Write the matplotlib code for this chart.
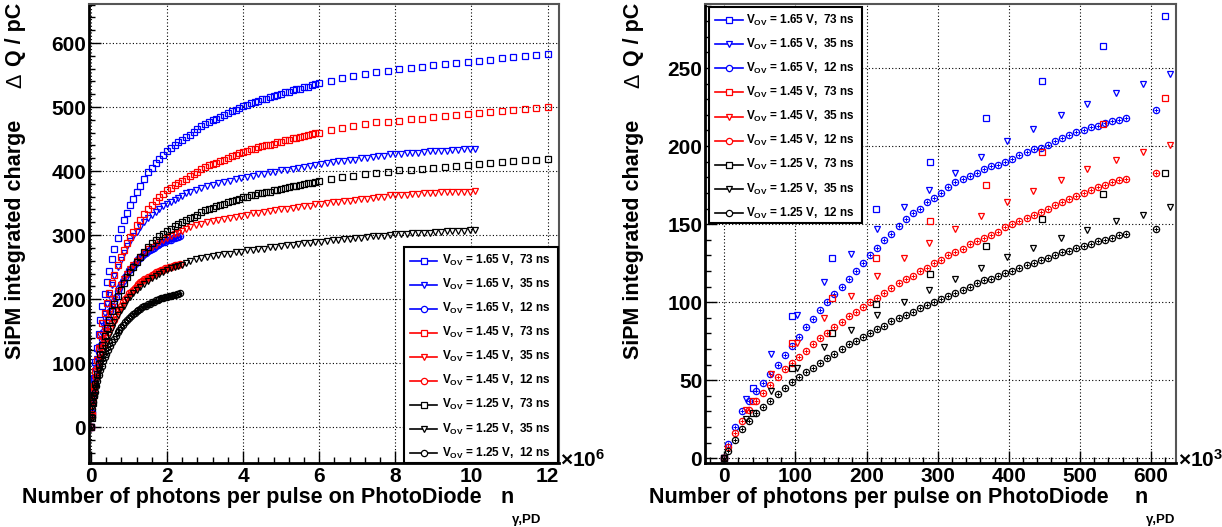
import matplotlib
matplotlib.use("Agg")
import matplotlib.pyplot as plt
from matplotlib.lines import Line2D
from matplotlib.patches import Rectangle
from matplotlib.ticker import MultipleLocator

# ---------------- data, left panel (x in units of 1e6 photons) ----------------
x73_l = [0, 0.02, 0.05, 0.08, 0.12, 0.16, 0.2, 0.25, 0.3, 0.36, 0.42, 0.48, 0.55, 0.62, 0.7, 0.78, 0.86, 0.94, 1.02,
         1.1, 1.2, 1.3, 1.4, 1.5, 1.6, 1.7, 1.8, 1.9, 2.0, 2.1, 2.2, 2.3, 2.4, 2.5, 2.6, 2.7, 2.8, 2.9, 3.0,
         3.1, 3.2, 3.3, 3.4, 3.5, 3.6, 3.7, 3.8, 3.9, 4.0, 4.1, 4.2, 4.3, 4.4, 4.5, 4.6, 4.7, 4.8, 4.9, 5.0,
         5.1, 5.2, 5.3, 5.4, 5.5, 5.6, 5.7, 5.8, 5.9, 6.0,
         6.3, 6.6, 6.9, 7.2, 7.5, 7.8, 8.1, 8.4, 8.7, 9.0, 9.3, 9.6, 9.9, 10.2, 10.5, 10.8, 11.1, 11.4, 11.7, 12.0]
q165_73_l = [0, 22, 55, 76, 101, 123, 145, 168, 190, 208, 226, 244, 262, 278, 296, 310, 323, 335, 347,
             356, 367, 377, 388, 398, 405, 412, 419, 425, 432, 436, 441, 445, 449, 453, 457, 461, 465, 470, 474,
             477, 480, 482, 485, 488, 491, 494, 496, 499, 502, 504, 506, 508, 510, 512, 513, 515, 517, 519, 521,
             523, 524, 526, 528, 529, 531, 532, 534, 536, 537,
             541, 545, 548, 552, 555, 557, 559, 561, 563, 565, 567, 569, 571, 572, 574, 576, 578, 580, 581, 583]
q145_73_l = [0, 19, 47, 65, 87, 105, 124, 144, 163, 178, 194, 209, 225, 238, 254, 266, 277, 287, 297,
             305, 315, 323, 333, 341, 347, 353, 359, 364, 370, 374, 378, 381, 385, 388, 392, 395, 399, 403, 406,
             409, 411, 413, 416, 418, 421, 423, 425, 428, 430, 432, 434, 435, 437, 439, 440, 441, 443, 445, 446,
             448, 449, 451, 452, 453, 455, 456, 458, 459, 460,
             464, 467, 470, 473, 476, 477, 479, 481, 482, 484, 486, 488, 489, 490, 492, 494, 495, 497, 498, 500]
q125_73_l = [0, 15, 37, 51, 68, 83, 98, 114, 129, 142, 155, 168, 181, 192, 205, 215, 225, 234, 243,
             250, 258, 266, 274, 282, 287, 293, 298, 302, 307, 310, 314, 317, 320, 323, 326, 329, 332, 336, 339,
             341, 343, 345, 347, 349, 351, 353, 355, 357, 359, 360, 362, 363, 365, 366, 367, 368, 370, 371, 372,
             374, 375, 376, 377, 378, 380, 381, 382, 383, 384,
             387, 390, 392, 395, 397, 399, 401, 402, 404, 405, 407, 408, 410, 411, 413, 414, 416, 417, 418, 419]

x35_l = [0, 0.02, 0.05, 0.08, 0.12, 0.16, 0.2, 0.25, 0.3, 0.36, 0.42, 0.48, 0.55, 0.62, 0.7, 0.78, 0.86, 0.94, 1.02,
         1.1, 1.2, 1.3, 1.4, 1.5, 1.6, 1.7, 1.8, 1.9, 2.0, 2.1, 2.2, 2.3, 2.4, 2.5, 2.6,
         2.75, 2.9, 3.05, 3.2, 3.35, 3.5, 3.65, 3.8, 3.95, 4.1, 4.25, 4.4, 4.55, 4.7, 4.85, 5.0, 5.15, 5.3, 5.45,
         5.6, 5.75, 5.9, 6.05, 6.2, 6.35, 6.5, 6.65, 6.8, 6.95, 7.1, 7.25, 7.4, 7.55, 7.7, 7.85, 8.0, 8.15, 8.3,
         8.45, 8.6, 8.75, 8.9, 9.05, 9.2, 9.35, 9.5, 9.65, 9.8, 9.95, 10.1]
q165_35_l = [0, 20, 47, 66, 88, 107, 125, 144, 162, 177, 192, 207, 222, 236, 250, 261, 272, 283, 291,
             298, 305, 313, 320, 327, 332, 336, 341, 345, 348, 352, 355, 358, 361, 365, 368,
             371, 374, 377, 379, 381, 383, 385, 387, 389, 391, 393, 395, 396, 398, 399, 401, 402, 404, 405,
             407, 408, 410, 411, 412, 414, 415, 416, 417, 418, 420, 421, 422, 423, 424, 426, 427, 427, 428,
             429, 429, 430, 431, 431, 432, 432, 433, 433, 434, 434, 434]
q145_35_l = [0, 17, 40, 56, 75, 91, 106, 122, 138, 150, 163, 176, 188, 200, 212, 222, 231, 240, 247,
             253, 259, 266, 272, 278, 282, 285, 290, 293, 295, 299, 301, 304, 306, 310, 312,
             315, 318, 320, 322, 323, 325, 327, 329, 330, 332, 334, 335, 336, 338, 339, 340, 341, 343, 344,
             346, 346, 348, 349, 350, 351, 352, 353, 354, 355, 357, 357, 358, 359, 360, 362, 363, 363, 363,
             364, 364, 365, 366, 366, 367, 367, 368, 368, 368, 368, 369]
q125_35_l = [0, 14, 33, 46, 61, 74, 87, 100, 113, 123, 134, 144, 155, 165, 175, 183, 190, 198, 204,
             209, 214, 219, 224, 229, 233, 236, 239, 242, 245, 248, 250, 252, 254, 257, 259,
             262, 264, 266, 267, 269, 270, 271, 273, 274, 276, 277, 278, 279, 281, 282, 283, 284, 285, 286,
             287, 288, 289, 290, 291, 292, 293, 294, 294, 295, 296, 297, 298, 299, 299, 300, 301, 302, 302,
             303, 303, 304, 304, 305, 305, 306, 306, 307, 307, 308, 308]

x12_l = [0, 0.02, 0.04, 0.06, 0.08, 0.1, 0.13, 0.16, 0.2, 0.24, 0.28, 0.32, 0.36, 0.4, 0.45,
         0.5, 0.55, 0.6, 0.65, 0.7, 0.75, 0.8, 0.85, 0.9, 0.95, 1.0, 1.05, 1.1, 1.15, 1.2, 1.25, 1.3, 1.35,
         1.4, 1.45, 1.5, 1.55, 1.6, 1.65, 1.7, 1.75, 1.8, 1.85, 1.9, 1.95, 2.0, 2.05, 2.1, 2.15, 2.2, 2.25,
         2.3, 2.35]
q165_12_l = [0, 23, 41, 57, 69, 79, 92, 103, 117, 127, 137, 149, 156, 164, 173,
             182, 190, 197, 204, 212, 217, 223, 229, 235, 239, 245, 247, 252, 255, 259, 262, 265, 267,
             270, 272, 275, 276, 279, 280, 283, 285, 286, 287, 289, 290, 292, 293, 293, 295, 296, 297,
             297, 299]
q145_12_l = [0, 20, 35, 49, 59, 67, 78, 88, 100, 109, 117, 127, 133, 140, 148,
             155, 162, 168, 174, 181, 185, 190, 195, 200, 204, 209, 211, 215, 217, 221, 223, 226, 228,
             231, 232, 234, 235, 238, 239, 242, 243, 244, 245, 246, 248, 249, 250, 250, 251, 253, 254,
             254, 255]
q125_12_l = [0, 16, 29, 40, 48, 55, 64, 72, 82, 89, 96, 104, 109, 115, 121,
             127, 133, 138, 143, 148, 152, 156, 160, 164, 167, 171, 173, 176, 178, 181, 183, 185, 187,
             189, 190, 192, 193, 195, 196, 198, 199, 200, 201, 202, 203, 204, 205, 205, 206, 207, 208,
             208, 209]

# ---------------- data, right panel (x in units of 1e3 photons) ----------------
x73_r = [0, 40, 95, 152, 214, 289, 368, 447, 532, 620]
q165_73_r = [0, 45, 91, 128, 160, 190, 218, 242, 264, 283]
q145_73_r = [0, 37, 74, 103, 128, 152, 175, 196, 214, 231]
q125_73_r = [0, 29, 58, 80, 99, 118, 136, 153, 169, 183]

x35_r = [0, 30, 66, 103, 140, 178, 215, 252, 288, 324, 361, 397, 434, 474, 510, 550, 589, 627]
q165_35_r = [0, 38, 67, 92, 113, 131, 147, 161, 172, 183, 193, 203, 211, 220, 227, 234, 240, 246]
q145_35_r = [0, 31, 54, 74, 90, 104, 117, 128, 138, 147, 155, 164, 171, 178, 185, 191, 196, 201]
q125_35_r = [0, 25, 43, 58, 71, 82, 92, 100, 108, 115, 122, 129, 135, 141, 146, 152, 156, 161]

x12_r = [0, 5, 15, 25, 35, 45, 55, 65, 75, 85, 95, 105, 115, 125, 135, 145, 155, 165, 175, 185, 195,
         205, 215, 225, 235, 245, 255, 265, 275, 285, 295, 305, 315, 325, 335, 345, 355, 365, 375, 385,
         395, 405, 415, 425, 435, 445, 455, 465, 475, 485, 495, 505, 515, 525, 535, 545, 555, 565, 607]
q165_12_r = [0, 9, 20, 30, 37, 43, 48, 54, 60, 66, 72, 78, 84, 89, 95, 100, 105, 110, 115, 120, 125,
             130, 135, 140, 144, 149, 153, 157, 160, 164, 167, 170, 174, 177, 179, 181, 183, 185, 187, 188,
             190, 192, 194, 196, 198, 199, 201, 203, 205, 207, 209, 210, 212, 213, 215, 216, 217, 218, 223]
q145_12_r = [0, 7, 16, 24, 31, 37, 42, 47, 52, 57, 61, 65, 69, 73, 77, 80, 84, 87, 91, 94, 97,
             100, 103, 106, 109, 112, 115, 117, 120, 122, 125, 127, 130, 132, 134, 137, 139, 141, 143, 145,
             148, 150, 152, 154, 156, 158, 160, 162, 164, 166, 168, 170, 172, 174, 175, 177, 178, 179, 183]
q125_12_r = [0, 5, 12, 19, 24, 29, 33, 37, 41, 45, 49, 52, 55, 58, 61, 64, 67, 70, 73, 75, 78,
             80, 83, 85, 88, 90, 92, 94, 96, 98, 100, 102, 104, 106, 108, 110, 112, 114, 115, 117,
             119, 120, 122, 124, 125, 127, 128, 130, 132, 133, 135, 136, 137, 139, 140, 141, 143, 144, 147]

labels = ["V$_{\\mathrm{OV}}$ = 1.65 V,  73 ns", "V$_{\\mathrm{OV}}$ = 1.65 V,  35 ns", "V$_{\\mathrm{OV}}$ = 1.65 V,  12 ns",
          "V$_{\\mathrm{OV}}$ = 1.45 V,  73 ns", "V$_{\\mathrm{OV}}$ = 1.45 V,  35 ns", "V$_{\\mathrm{OV}}$ = 1.45 V,  12 ns",
          "V$_{\\mathrm{OV}}$ = 1.25 V,  73 ns", "V$_{\\mathrm{OV}}$ = 1.25 V,  35 ns", "V$_{\\mathrm{OV}}$ = 1.25 V,  12 ns"]
colors = ["#0000ff"] * 3 + ["#ff0000"] * 3 + ["#000000"] * 3
markers = ["s", "v", "o"] * 3

left_series = [(x73_l, q165_73_l), (x35_l, q165_35_l), (x12_l, q165_12_l),
               (x73_l, q145_73_l), (x35_l, q145_35_l), (x12_l, q145_12_l),
               (x73_l, q125_73_l), (x35_l, q125_35_l), (x12_l, q125_12_l)]
right_series = [(x73_r, q165_73_r), (x35_r, q165_35_r), (x12_r, q165_12_r),
                (x73_r, q145_73_r), (x35_r, q145_35_r), (x12_r, q145_12_r),
                (x73_r, q125_73_r), (x35_r, q125_35_r), (x12_r, q125_12_r)]

# ---------------- style ----------------
plt.rcParams["font.family"] = ["Liberation Sans", "DejaVu Sans"]
plt.rcParams["font.weight"] = "bold"
plt.rcParams["mathtext.fontset"] = "custom"
plt.rcParams["mathtext.rm"] = "Liberation Sans:bold"
plt.rcParams["mathtext.bf"] = "Liberation Sans:bold"
plt.rcParams["mathtext.it"] = "Liberation Sans:bold"

W, H = 1222, 527
fig = plt.figure(figsize=(W / 100, H / 100), dpi=100)


def rect(x0, y0, x1, y1):
    return [x0 / W, 1 - y1 / H, (x1 - x0) / W, (y1 - y0) / H]


def setup_axes(ax, xlim, ylim, xmaj, xmin, ymaj, ymin):
    ax.set_xlim(*xlim)
    ax.set_ylim(*ylim)
    ax.xaxis.set_major_locator(MultipleLocator(xmaj))
    ax.xaxis.set_minor_locator(MultipleLocator(xmin))
    ax.yaxis.set_major_locator(MultipleLocator(ymaj))
    ax.yaxis.set_minor_locator(MultipleLocator(ymin))
    ax.tick_params(which="both", direction="in", top=False, right=False, width=1.0)
    ax.tick_params(which="major", length=8.5, labelsize=15)
    ax.tick_params(axis="y", which="major", pad=2)
    ax.tick_params(axis="x", which="major", pad=3)
    ax.tick_params(which="minor", length=4.5)
    ax.grid(True, which="major", color="black", ls=(0, (1, 2)), lw=0.8)
    ax.set_axisbelow(True)
    for s in ("left", "bottom"):
        ax.spines[s].set_linewidth(2.0)
    for s in ("top", "right"):
        ax.spines[s].set_linewidth(1.5)
        ax.spines[s].set_color("#555555")
    for lab in ax.get_xticklabels() + ax.get_yticklabels():
        lab.set_fontweight("bold")


def draw(ax, series):
    for (x, y), c, m in zip(series, colors, markers):
        ms = 5 if m == "v" else 4.5
        ax.plot(x, y, ls="none", marker=m, ms=ms, mfc="none", mec=c, mew=0.9)
        if m == "o":
            ax.plot(x, y, ls="none", marker="+", ms=3, mec=c, mew=0.7)


def draw_legend(box, y_first, y_step, line_x, text_x):
    fig.add_artist(Rectangle((box[0] / W, 1 - box[3] / H), (box[2] - box[0]) / W, (box[3] - box[1]) / H,
                             transform=fig.transFigure, fc="white", ec="black", lw=1.5, zorder=5))
    for i, (lab, c, m) in enumerate(zip(labels, colors, markers)):
        yy = 1 - (y_first + i * y_step) / H
        fig.add_artist(Line2D([line_x[0] / W, line_x[1] / W], [yy, yy], color=c, lw=1.2, zorder=6))
        fig.add_artist(Line2D([(line_x[0] + line_x[1]) / 2 / W], [yy], ls="none", marker=m, ms=4.5,
                              mfc="white", mec=c, mew=0.9, zorder=7))
        fig.text(text_x / W, yy, lab, fontsize=8.5, ha="left", va="center", zorder=7)


# left panel
axl = fig.add_axes(rect(89, 4, 559, 463))
setup_axes(axl, (-0.05, 12.3), (-56, 661), 2, 0.4, 100, 20)
draw(axl, left_series)
draw_legend((404, 247, 558, 463), 260.7, 24.04, (410, 437), 442)

# right panel
axr = fig.add_axes(rect(705, 4, 1176, 463))
setup_axes(axr, (-27, 635), (-3, 291), 100, 20, 50, 10)
draw(axr, right_series)
draw_legend((709, 7, 862, 223), 20, 24.15, (715, 743), 746)

# axis titles and exponent labels
renderer = fig.canvas.get_renderer()
for xc in (16, 634):
    t = fig.text(xc / W, 1 - 3 / H, "Q / pC", rotation=90, ha="center", va="top", fontsize=15.5)
    h = t.get_window_extent(renderer).height
    fig.text(xc / W, 1 - (3 + h + 7) / H, "\u0394", rotation=90, ha="center", va="top",
             fontsize=15.5, fontweight="normal")
    fig.text(xc / W, 1 - 120 / H, "SiPM integrated charge", rotation=90, ha="center", va="top", fontsize=15.5)

for end_x, n_x, exp_x, exp in ((482, 500, 560, "6"), (1109, 1134, 1178, "3")):
    fig.text(end_x / W, 1 - 503 / H, "Number of photons per pulse on PhotoDiode", ha="right",
             va="baseline", fontsize=15.5)
    fig.text(n_x / W, 1 - 503 / H, "n", ha="left", va="baseline", fontsize=15.5)
    fig.text((n_x + 12) / W, 1 - 523 / H, "\u03b3,PD", ha="left", va="baseline", fontsize=9.5)
    fig.text(exp_x / W, 1 - 467 / H, "$\\times$10$^{" + exp + "}$", ha="left", va="baseline", fontsize=15)

fig.savefig("out.png", dpi=100, facecolor="white")
